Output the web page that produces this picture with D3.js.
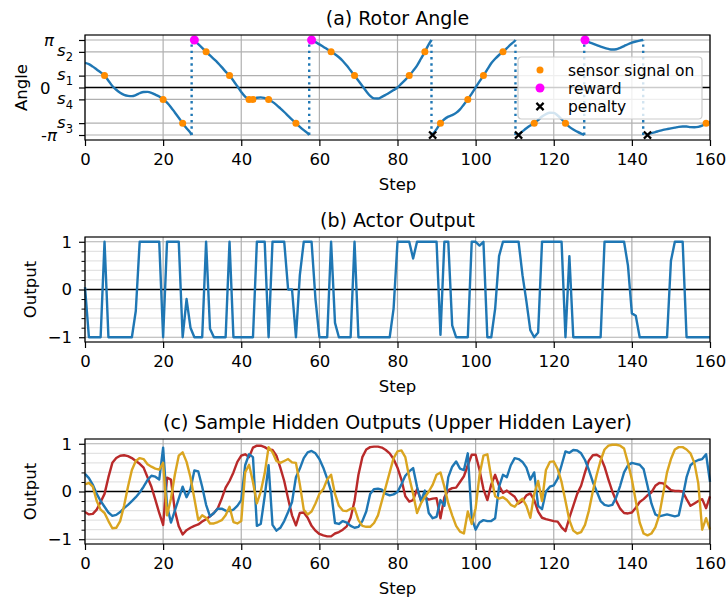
<!DOCTYPE html>
<html>
<head>
<meta charset="utf-8">
<script src="https://cdn.jsdelivr.net/npm/d3@7"></script>
<style>
body { margin: 0; background: #fff; }
svg text { font-family: "DejaVu Sans", sans-serif; fill: #000; }
</style>
</head>
<body>
<div id="chart"></div>
<script>

// ==========================================================================
// Data

var xTicks = [0, 20, 40, 60, 80, 100, 120, 140, 160];

// (a) rotor angle, one value per step (null = no sample drawn)
var angleValue = [
    1.63, 1.55, 1.38, 1.19, 1.0, 0.79, 0.45, 0.1, -0.15, -0.35,
    -0.48, -0.55, -0.57, -0.5, -0.38, -0.3, -0.29, -0.35, -0.47, -0.6,
    -0.78, -1.0, -1.3, -1.65, -2.0, -2.36, -2.7, -3.0, 3.1, 2.87,
    2.62, 2.36, 2.12, 1.88, 1.63, 1.35, 1.05, 0.79, 0.45, 0.08,
    -0.3, -0.6, -0.78, -0.76, -0.68, -0.65, -0.7, -0.79, -0.95, -1.15,
    -1.38, -1.62, -1.87, -2.12, -2.36, -2.6, -2.82, -3.02, 3.12, 3.0,
    2.85, 2.7, 2.53, 2.36, 2.2, 2.0, 1.75, 1.45, 1.12, 0.79,
    0.45, 0.1, -0.25, -0.55, -0.72, -0.73, -0.62, -0.48, -0.33, -0.17,
    0.0, 0.25, 0.5, 0.79, 1.1, 1.45, 1.9, 2.36, 2.85, -3.1,
    -2.75, -2.36, -2.1, -1.93, -1.83, -1.68, -1.45, -1.12, -0.79, -0.4,
    0.0, 0.4, 0.79, 1.2, 1.6, 1.9, 2.15, 2.36, 2.6, 2.85,
    3.08, -3.1, -2.9, -2.7, -2.52, -2.36, -2.15, -1.92, -1.76, -1.67,
    -1.68, -1.85, -2.1, -2.36, -2.6, -2.78, -2.92, -3.05, 3.12, 3.0,
    2.9, 2.8, 2.7, 2.62, 2.55, 2.51, 2.53, 2.62, 2.74, 2.86,
    2.96, 3.04, 3.1, null, -3.1, -3.02, -2.95, -2.87, -2.8, -2.75,
    -2.7, -2.65, -2.6, -2.58, -2.58, -2.62, -2.63, -2.6, -2.52, -2.36,
    -2.3
];

// steps where the angle wraps round (dotted lines)
var angleWraps = [27.3, 57.4, 88.7, 110.2, 127.8, 142.9];

var angleTicks = [-Math.PI, -3 * Math.PI / 4, -Math.PI / 4, 0, Math.PI / 4, 3 * Math.PI / 4, Math.PI];
var angleTickNames = ['-π', 's3', 's4', '0', 's1', 's2', 'π'];

// sensor level index into angleTicks
var sensorStep = [5, 20, 25, 31, 37, 42, 43, 47, 54, 63, 69, 83, 87, 91, 98, 102, 107, 115, 123, 159];
var sensorLevel = ['s1', 's4', 's3', 's2', 's1', 's4', 's4', 's4', 's3', 's2', 's1', 's1', 's2', 's3', 's4', 's1', 's2', 's3', 's3', 's3'];

var rewardStep = [28, 58, 128];
var penaltyStep = [89, 111, 144];

var legendNames = ['sensor signal on', 'reward', 'penalty'];

// (b) actor output
var actorOutput = [
    0.05, -1, -1, -1, -1, 1, -1, -1, -1, -1,
    -1, -1, -1, -0.45, 1, 1, 1, 1, 1, 1,
    -1, 1, 1, 1, 1, -1, -0.2, -0.8, -1, -1,
    -1, 1, -0.82, -1, -1, -1, -1, 1, -1, -1,
    -1, -1, -1, -1, 1, 1, 1, -1, 1, 1,
    1, 1, 0, 0, -1, 0.3, 1, 1, 1, -0.2,
    -1, -1, -1, 1, -0.7, -1, -1, -1, -1, 1,
    -1, -1, -1, -1, -1, -1, -1, -1, -1, -0.4,
    1, 1, 1, 1, 0.65, 1, 1, 1, 1, 1,
    1, -0.95, 1, 1, -0.75, -1, -1, -1, -1, 1,
    1, 0.92, 1, -1, -1, -0.4, 0.7, 1, 1, 1,
    1, 1, 0.3, -0.25, -0.85, -1, -0.9, 1, 1, 1,
    1, 1, 1, -1, 0.7, -1, -1, -1, -1, -1,
    -1, -1, -1, 1, 1, 1, 1, 1, 1, 0.5,
    -0.5, -0.55, -1, -1, -1, -1, -1, -1, -1, -1,
    0.6, 1, 1, 1, -1, -1, -1, -1, -1, -1,
    -1
];

// (c) sample hidden outputs
var hiddenRed = [
    -0.43, -0.48, -0.47, -0.38, -0.22, -0.05, 0.3, 0.6, 0.7, 0.75,
    0.76, 0.74, 0.7, 0.64, 0.58, 0.5, 0.3, 0.1, -0.17, -0.45,
    -0.7, 0.29, 0.25, -0.4, -0.73, -0.9, -0.81, -0.76, -0.72, -0.69,
    -0.63, -0.58, -0.52, -0.45, -0.35, -0.15, 0.08, 0.22, 0.4, 0.62,
    0.75, 0.78, 0.72, 0.92, 0.96, 0.96, 0.93, 0.88, 0.87, 0.75,
    0.5, 0.22, -0.15, -0.5, -0.71, -0.45, -0.44, -0.55, -0.72, -0.82,
    -0.89, -0.92, -0.94, -0.94, -0.88, -0.85, -0.8, -0.73, -0.55, -0.2,
    0.35, 0.72, 0.88, 0.93, 0.94, 0.94, 0.92, 0.87, 0.8, 0.68,
    0.5, 0.25, -0.1, -0.21, -0.18, 0.05, -0.18, -0.12, -0.17, -0.15,
    -0.14, -0.56, -0.12, 0.03, 0.07, 0.08, 0.2, 0.32, 0.55, 0.77,
    0.77, 0.45, 0.05, -0.18, 0.15, 0.35, 0.12, -0.03, 0.02, -0.05,
    -0.11, -0.25, -0.2, -0.08, -0.04, -0.18, -0.42, -0.55, -0.58, -0.6,
    -0.62, -0.63, -0.75, -0.83, -0.55, -0.3, -0.05, 0.12, 0.4, 0.65,
    0.76, 0.77, 0.72, 0.52, 0.25, 0.0, -0.2, -0.36, -0.45, -0.46,
    -0.44, -0.34, -0.22, -0.16, -0.08, -0.02, 0.12, 0.18, 0.17, 0.1,
    0.03, 0.01, 0.01, 0.0, -0.16, -0.3, -0.25, -0.2, -0.16, -0.35,
    -0.1
];

var hiddenBlue = [
    0.37, 0.28, 0.14, -0.05, -0.2, -0.32, -0.44, -0.51, -0.49, -0.43,
    -0.35, -0.28, -0.2, -0.12, -0.02, 0.1, 0.24, 0.33, 0.31, 0.25,
    0.92, -0.3, -0.65, -0.4, -0.15, 0.1, -0.12, 0.05, 0.44, 0.42,
    0.1, -0.28, -0.52, -0.45, -0.36, -0.36, -0.4, -0.41, -0.38, -0.3,
    -0.18, 0.55, 0.78, 0.72, -0.72, -0.68, -0.1, 0.55, -0.7, -0.82,
    -0.76, -0.62, -0.43, -0.22, 0.3, 0.48, 0.7, 0.82, 0.85, 0.8,
    0.68, 0.5, 0.27, 0.0, -0.66, -0.68, -0.62, -0.65, -0.72, -0.76,
    -0.74, -0.62, -0.42, -0.05, 0.05, 0.06, 0.04, -0.05, -0.08, -0.06,
    -0.01, 0.15, 0.33, 0.42, 0.49, 0.1, -0.2, 0.02, -0.45, -0.56,
    -0.53, -0.18, -0.3, 0.3, 0.52, 0.63, 0.48, 0.45, 0.8, -0.56,
    -0.8, -0.65, -0.6, -0.62, -0.62, -0.56, 0.1, 0.35, 0.3, 0.55,
    0.7, 0.68, 0.62, 0.5, 0.25, 0.4, -0.3, -0.37, 0.0, 0.1,
    0.13, 0.27, 0.55, 0.84, 0.81, 0.87, 0.86, 0.8, 0.66, 0.45,
    0.2, 0.0, -0.2, -0.28, -0.3, -0.28, -0.12, 0.12, 0.4, 0.55,
    0.6, 0.58, 0.56, 0.47, 0.12, -0.25, -0.48, -0.52, -0.5, -0.48,
    -0.5, -0.52, -0.5, -0.12, 0.3, 0.55, 0.62, 0.66, 0.68, 0.78,
    0.2
];

var hiddenGold = [
    0.15, 0.18, 0.1, -0.2, -0.38, -0.45, -0.62, -0.77, -0.76, -0.62,
    -0.3, 0.1, 0.45, 0.64, 0.7, 0.68, 0.57, 0.52, 0.48, 0.46,
    0.6, -0.5, -0.15, 0.35, 0.75, 0.82, 0.62, 0.3, -0.15, -0.6,
    -0.5, -0.55, -0.67, -0.67, -0.64, -0.6, -0.5, -0.32, -0.64, -0.67,
    -0.62, 0.4, 0.56, 0.2, -0.25, 0.0, 0.38, 0.93, 0.82, 0.64,
    0.6, 0.64, 0.68, 0.61, 0.6, 0.15, -0.38, -0.48, -0.42, -0.25,
    -0.05, 0.05, 0.25, 0.35, -0.05, -0.3, -0.4, -0.41, -0.36, -0.35,
    -0.6, -0.72, -0.74, -0.74, -0.66, -0.5, -0.2, 0.1, 0.4, 0.7,
    0.84, 0.86, 0.72, 0.3, -0.05, -0.45, -0.25, -0.12, 0.0, 0.14,
    0.35, 0.4, 0.1, -0.25, -0.5, -0.72, -0.84, -0.88, -0.42, -0.68,
    -0.35, 0.35, 0.75, 0.78, 0.3, -0.1, -0.15, -0.12, -0.18, -0.28,
    -0.32, -0.22, -0.15, -0.3, -0.55, -0.05, 0.22, -0.2, 0.45, 0.62,
    0.63, 0.47, 0.2, -0.2, -0.6, -0.82, -0.88, -0.85, -0.7, -0.4,
    0.0, 0.35, 0.65, 0.88, 0.96, 0.98, 0.98, 0.96, 0.9, 0.6,
    0.25, -0.2, -0.65, -0.88, -0.92, -0.88, -0.75, -0.5, -0.05, 0.4,
    0.68, 0.88, 0.93, 0.93, 0.88, 0.8, 0.6, 0.17, -0.8, -0.56,
    -0.8
];

var outputTicks = [-1, 0, 1];
var outputMinor = [-0.8, -0.6, -0.4, -0.2, 0.2, 0.4, 0.6, 0.8];

// ==========================================================================
// Layout

var width = 727, height = 603;
var left = 85, right = 710;
var plotH = 105;
var fontSize = 16.5;
var blue = '#1f77b4';

var svg = d3.select('#chart')
    .append('svg')
    .attr('width', width)
    .attr('height', height);

var x = d3.scaleLinear()
    .domain([0, 160])
    .range([left, right]);

function makePanel(top, domain, title, yLabel, labelX) {
    var y = d3.scaleLinear()
        .domain(domain)
        .range([top + plotH, top]);
    var g = svg.append('g');
    var p = { g: g, y: y, top: top, bottom: top + plotH };

    g.append('text')
        .attr('x', (left + right) / 2)
        .attr('y', top - 10.5)
        .attr('text-anchor', 'middle')
        .attr('font-size', 19)
        .text(title);

    g.append('text')
        .attr('x', (left + right) / 2)
        .attr('y', top + plotH + 50)
        .attr('text-anchor', 'middle')
        .attr('font-size', fontSize)
        .text('Step');

    g.append('text')
        .attr('transform', 'translate(' + labelX + ',' + (top + plotH / 2) + ') rotate(-90)')
        .attr('text-anchor', 'middle')
        .attr('font-size', fontSize)
        .text(yLabel);
    return p;
}

function hLines(p, values, color, w) {
    p.g.append('g')
        .selectAll('line')
        .data(values)
        .enter()
        .append('line')
        .attr('x1', left)
        .attr('x2', right)
        .attr('y1', function(d) { return p.y(d); })
        .attr('y2', function(d) { return p.y(d); })
        .attr('stroke', color)
        .attr('stroke-width', w);
}

function drawGrid(p, yMajor, yMinor) {
    if (yMinor) hLines(p, yMinor, '#e3e3e3', 1.2);
    p.g.append('g')
        .selectAll('line')
        .data(xTicks)
        .enter()
        .append('line')
        .attr('x1', function(d) { return x(d); })
        .attr('x2', function(d) { return x(d); })
        .attr('y1', p.top)
        .attr('y2', p.bottom)
        .attr('stroke', '#b0b0b0')
        .attr('stroke-width', 1.2);
    hLines(p, yMajor, '#b0b0b0', 1.2);
    // zero line
    hLines(p, [0], '#000', 1.4);
}

function styleAxis(a) {
    a.attr('font-size', fontSize).attr('font-family', null);
    a.select('.domain').remove();
    a.selectAll('.tick line').attr('stroke', '#000').attr('stroke-width', 1.2);
    a.selectAll('.tick text').attr('fill', '#000');
}

function drawAxes(p, yTicks, yMinor, showYLabels) {
    var xa = p.g.append('g')
        .attr('transform', 'translate(0,' + p.bottom + ')')
        .call(d3.axisBottom(x).tickValues(xTicks).tickSize(6).tickPadding(7.5));
    styleAxis(xa);

    var yAxis = d3.axisLeft(p.y).tickValues(yTicks).tickSize(6).tickPadding(7)
        .tickFormat(showYLabels ? d3.format('d') : '');
    var ya = p.g.append('g')
        .attr('transform', 'translate(' + left + ',0)')
        .call(yAxis);
    styleAxis(ya);

    if (yMinor) {
        var ym = p.g.append('g')
            .attr('transform', 'translate(' + left + ',0)')
            .call(d3.axisLeft(p.y).tickValues(yMinor).tickSize(3.5).tickFormat(''));
        styleAxis(ym);
        ym.selectAll('.tick line').attr('stroke-width', 1);
    }

    // spines
    p.g.append('rect')
        .attr('x', left)
        .attr('y', p.top)
        .attr('width', right - left)
        .attr('height', plotH)
        .attr('fill', 'none')
        .attr('stroke', '#000')
        .attr('stroke-width', 1.2);
}

// ==========================================================================
// (a) Rotor Angle

var pad = 0.33;
var pA = makePanel(35, [-Math.PI - pad, Math.PI + pad], '(a) Rotor Angle', 'Angle', 27);
drawGrid(pA, angleTicks, null);

// split the angle line where it wraps round
var anglePts = [];
var wi = 0;
var lastVal = null;
angleValue.forEach(function(v, i) {
    if (wi < angleWraps.length && i > angleWraps[wi]) {
        anglePts.push([angleWraps[wi], lastVal > 0 ? Math.PI : -Math.PI]);
        anglePts.push(null);
        wi++;
    }
    if (v !== null) {
        anglePts.push([i, v]);
        lastVal = v;
    }
});

var angleLine = d3.line()
    .defined(function(d) { return d !== null; })
    .x(function(d) { return x(d[0]); })
    .y(function(d) { return pA.y(d[1]); })
    .curve(d3.curveMonotoneX);

pA.g.append('g')
    .selectAll('line')
    .data(angleWraps)
    .enter()
    .append('line')
    .attr('x1', function(d) { return x(d); })
    .attr('x2', function(d) { return x(d); })
    .attr('y1', pA.y(-Math.PI))
    .attr('y2', pA.y(Math.PI))
    .attr('stroke', blue)
    .attr('stroke-width', 2.4)
    .attr('stroke-dasharray', '2.4 3.9');

pA.g.append('path')
    .datum(anglePts)
    .attr('d', angleLine)
    .attr('fill', 'none')
    .attr('stroke', blue)
    .attr('stroke-width', 2.4);

function levelValue(name) {
    return angleTicks[angleTickNames.indexOf(name)];
}

pA.g.append('g')
    .selectAll('circle')
    .data(sensorStep)
    .enter()
    .append('circle')
    .attr('cx', function(d) { return x(d); })
    .attr('cy', function(d, i) { return pA.y(levelValue(sensorLevel[i])); })
    .attr('r', 3.5)
    .attr('fill', 'darkorange');

pA.g.append('g')
    .selectAll('circle')
    .data(rewardStep)
    .enter()
    .append('circle')
    .attr('cx', function(d) { return x(d); })
    .attr('cy', pA.y(Math.PI))
    .attr('r', 4.5)
    .attr('fill', '#ff00ff');

var crossPath = 'M-3.6,-3.6L3.6,3.6M-3.6,3.6L3.6,-3.6';
pA.g.append('g')
    .selectAll('path')
    .data(penaltyStep)
    .enter()
    .append('path')
    .attr('transform', function(d) { return 'translate(' + x(d) + ',' + pA.y(-Math.PI) + ')'; })
    .attr('d', crossPath)
    .attr('stroke', '#000')
    .attr('stroke-width', 2.2);

drawAxes(pA, angleTicks, null, false);

// custom y tick labels for the angle
angleTickNames.forEach(function(name, i) {
    var yy = pA.y(angleTicks[i]);
    var t = pA.g.append('text')
        .attr('text-anchor', 'end')
        .attr('font-size', fontSize);
    if (name.charAt(0) === 's') {
        t.attr('x', 73).attr('y', yy + 4.5);
        t.append('tspan').attr('font-style', 'italic').text('s');
        t.append('tspan').attr('font-size', 11.5).attr('dy', 5).text(name.charAt(1));
    } else if (name === '0') {
        t.attr('x', 50.5).attr('y', yy + 6).text('0');
    } else if (name === 'π') {
        t.attr('x', 54).attr('y', yy + 6).attr('font-style', 'italic').text('π');
    } else {
        t.attr('x', 57).attr('y', yy + 6);
        t.append('tspan').text('-');
        t.append('tspan').attr('font-style', 'italic').text('π');
    }
});

// legend
var lg = svg.append('g').attr('transform', 'translate(518,57)');
lg.append('rect')
    .attr('width', 184)
    .attr('height', 62)
    .attr('rx', 3.5)
    .attr('fill', '#fff')
    .attr('fill-opacity', 0.8)
    .attr('stroke', '#cccccc')
    .attr('stroke-width', 1.2);

var rowY = [13, 31, 49.5];
lg.append('circle').attr('cx', 22).attr('cy', rowY[0]).attr('r', 3.5).attr('fill', 'darkorange');
lg.append('circle').attr('cx', 22).attr('cy', rowY[1]).attr('r', 4.5).attr('fill', '#ff00ff');
lg.append('path')
    .attr('transform', 'translate(22,' + rowY[2] + ')')
    .attr('d', crossPath)
    .attr('stroke', '#000')
    .attr('stroke-width', 2.2);

lg.selectAll('text.leg')
    .data(legendNames)
    .enter()
    .append('text')
    .attr('class', 'leg')
    .attr('x', 50)
    .attr('y', function(d, i) { return rowY[i] + 5.5; })
    .attr('font-size', 15.5)
    .text(function(d) { return d; });

// ==========================================================================
// (b) Actor Output

var pB = makePanel(237, [-1.1, 1.1], '(b) Actor Output', 'Output', 35.5);
drawGrid(pB, outputTicks, outputMinor);

function stepLine(p) {
    return d3.line()
        .x(function(d, i) { return x(i); })
        .y(function(d) { return p.y(d); });
}

pB.g.append('path')
    .datum(actorOutput)
    .attr('d', stepLine(pB))
    .attr('fill', 'none')
    .attr('stroke', blue)
    .attr('stroke-width', 2.4)
    .attr('stroke-linejoin', 'round');

drawAxes(pB, outputTicks, outputMinor, true);

// ==========================================================================
// (c) Sample Hidden Outputs

var pC = makePanel(439, [-1.1, 1.1], '(c) Sample Hidden Outputs (Upper Hidden Layer)', 'Output', 35.5);
drawGrid(pC, outputTicks, outputMinor);

var hiddenSeries = [hiddenRed, hiddenBlue, hiddenGold];
var hiddenColors = ['#b92a2a', blue, '#daa520'];

pC.g.append('g')
    .selectAll('path')
    .data(hiddenSeries)
    .enter()
    .append('path')
    .attr('d', stepLine(pC))
    .attr('fill', 'none')
    .attr('stroke', function(d, i) { return hiddenColors[i]; })
    .attr('stroke-width', 2.4)
    .attr('stroke-linejoin', 'round');

drawAxes(pC, outputTicks, outputMinor, true);

</script>
</body>
</html>
